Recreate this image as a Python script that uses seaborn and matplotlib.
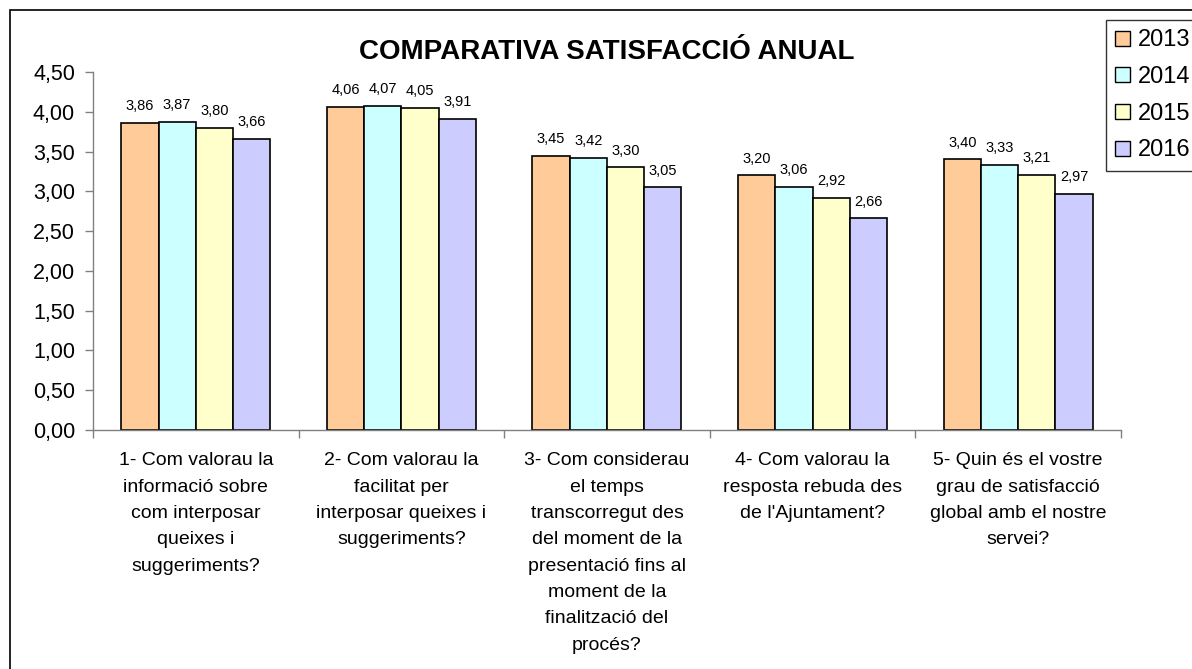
import matplotlib
matplotlib.use('Agg')
import matplotlib.pyplot as plt
from matplotlib.patches import Rectangle, Patch
from matplotlib.ticker import FuncFormatter, FixedLocator
import pandas as pd
import seaborn as sns

# ── dades ──────────────────────────────────────
preguntes = [
    "1- Com valorau la\ninformació sobre\ncom interposar\nqueixes i\nsuggeriments?",
    "2- Com valorau la\nfacilitat per\ninterposar queixes i\nsuggeriments?",
    "3- Com considerau\nel temps\ntranscorregut des\ndel moment de la\npresentació fins al\nmoment de la\nfinalització del\nprocés?",
    "4- Com valorau la\nresposta rebuda des\nde l'Ajuntament?",
    "5- Quin és el vostre\ngrau de satisfacció\nglobal amb el nostre\nservei?",
]
anys = ["2013", "2014", "2015", "2016"]
v2013 = [3.86, 4.06, 3.45, 3.20, 3.40]
v2014 = [3.87, 4.07, 3.42, 3.06, 3.33]
v2015 = [3.80, 4.05, 3.30, 2.92, 3.21]
v2016 = [3.66, 3.91, 3.05, 2.66, 2.97]
colors = ["#FFCC99", "#CCFFFF", "#FFFFCC", "#CCCCFF"]

rows = []
for any_, vals in zip(anys, [v2013, v2014, v2015, v2016]):
    for p, v in zip(preguntes, vals):
        rows.append({"pregunta": p, "any": any_, "valor": v})
df = pd.DataFrame(rows)

sns.set_style("white")
plt.rcParams['font.family'] = ['Liberation Sans', 'DejaVu Sans']
plt.rcParams['text.color'] = 'black'

fig = plt.figure(figsize=(11.92, 6.69), dpi=100)
ax = fig.add_axes([0.078, 0.3573, 0.8624, 0.5351])

sns.barplot(data=df, x="pregunta", y="valor", hue="any", palette=colors,
            saturation=1, edgecolor="black", linewidth=1.2, width=0.725,
            gap=0, ax=ax, legend=False)

fmt = lambda v: f"{v:.2f}".replace(".", ",")
for cont in ax.containers:
    ax.bar_label(cont, labels=[fmt(b.get_height()) for b in cont],
                 padding=7, fontsize=10.5, color="black")

ax.set_ylim(0, 4.5)
ax.set_yticks([i * 0.5 for i in range(10)])
ax.yaxis.set_major_formatter(FuncFormatter(lambda v, _: fmt(v)))
ax.set_xlim(-0.5, 4.5)
ax.set_xlabel("")
ax.set_ylabel("")

# ticks entre categories
ax.xaxis.set_minor_locator(FixedLocator([i - 0.5 for i in range(6)]))
ax.tick_params(axis="x", which="major", length=0, pad=16, labelsize=14,
               labelcolor="black")
ax.tick_params(axis="x", which="minor", length=6, width=1, color="#808080",
               direction="out", bottom=True)
ax.tick_params(axis="y", length=6, width=1, color="#808080", direction="out",
               left=True, labelsize=15.5, pad=7, labelcolor="black")
for lab in ax.get_xticklabels():
    lab.set_linespacing(1.72)
    lab.set_verticalalignment("top")

for s in ["top", "right"]:
    ax.spines[s].set_visible(False)
for s in ["left", "bottom"]:
    ax.spines[s].set_color("#808080")
    ax.spines[s].set_linewidth(1)

ax.set_title("COMPARATIVA SATISFACCIÓ ANUAL", fontsize=20, fontweight="bold",
             pad=9, color="black")

handles = [Patch(facecolor=c, edgecolor="black", linewidth=1) for c in colors]
leg = fig.legend(handles, anys, loc="upper left",
                 bbox_to_anchor=(1106 / 1192, 1 - 20 / 669),
                 bbox_transform=fig.transFigure, fontsize=17,
                 frameon=True, fancybox=False, edgecolor="black",
                 handlelength=0.6, handleheight=0.6, handletextpad=0.35,
                 labelspacing=0.62, borderpad=0.4, borderaxespad=0)
leg.get_frame().set_linewidth(1)

# marc de la figura
fig.patches.append(Rectangle((9.5 / 1192, -0.05), 1.0, (669 - 10) / 669 + 0.05,
                             transform=fig.transFigure, fill=False,
                             edgecolor="black", linewidth=1.2))

fig.savefig("out.png", dpi=100)
